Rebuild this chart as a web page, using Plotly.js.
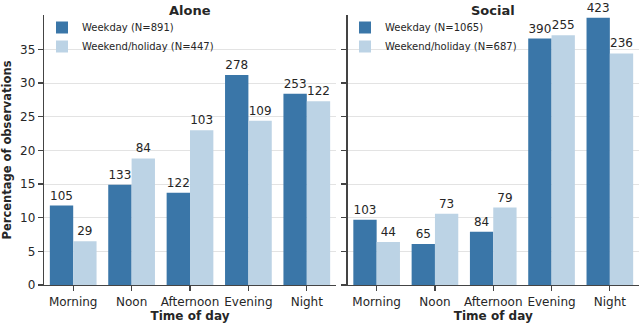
<!DOCTYPE html>
<html>
<head>
<meta charset="utf-8">
<script src="https://cdn.plot.ly/plotly-3.0.1.min.js"></script>
<style>html,body{margin:0;padding:0;background:#fff;}#chart{width:640px;height:325px;}</style>
</head>
<body>
<div id="chart"></div>
<script>
const categories = ['Morning', 'Noon', 'Afternoon', 'Evening', 'Night'];
// Alone
const aloneWeekdayPct = [11.8, 14.9, 13.7, 31.2, 28.4];
const aloneWeekdayN = [105, 133, 122, 278, 253];
const aloneWeekendPct = [6.5, 18.8, 23.0, 24.4, 27.3];
const aloneWeekendN = [29, 84, 103, 109, 122];
// Social
const socialWeekdayPct = [9.7, 6.1, 7.9, 36.6, 39.7];
const socialWeekdayN = [103, 65, 84, 390, 423];
const socialWeekendPct = [6.4, 10.6, 11.5, 37.1, 34.4];
const socialWeekendN = [44, 73, 79, 255, 236];

const seriesNames = {
  alone: ['Weekday (N=891)', 'Weekend/holiday (N=447)'],
  social: ['Weekday (N=1065)', 'Weekend/holiday (N=687)']
};
const yTicks = [0, 5, 10, 15, 20, 25, 30, 35];

const dark = '#3a76a8', light = '#bcd3e5';
const txt = '#262626';
const font = 'DejaVu Sans, sans-serif';

function bar(y, n, name, color, xa, ya, leg) {
  return {
    type: 'bar', x: categories, y: y, name: name,
    text: n.map(String), textposition: 'outside', cliponaxis: false,
    constraintext: 'none',
    textfont: {family: font, size: 12, color: txt},
    marker: {color: color, line: {width: 0}},
    xaxis: xa, yaxis: ya, legend: leg, hoverinfo: 'none'
  };
}

const data = [
  bar(aloneWeekdayPct, aloneWeekdayN, seriesNames.alone[0], dark, 'x', 'y', 'legend'),
  bar(aloneWeekendPct, aloneWeekendN, seriesNames.alone[1], light, 'x', 'y', 'legend'),
  bar(socialWeekdayPct, socialWeekdayN, seriesNames.social[0], dark, 'x2', 'y2', 'legend2'),
  bar(socialWeekendPct, socialWeekendN, seriesNames.social[1], light, 'x2', 'y2', 'legend2')
];

const xBase = {
  type: 'category', range: [-0.5, 4.5], showline: true, linecolor: '#444', linewidth: 1.3,
  ticks: 'outside', ticklen: 5, tickcolor: '#444', tickwidth: 1.2,
  showgrid: false, zeroline: false,
  tickfont: {family: font, size: 12, color: txt},
  title: {text: '<b>Time of day</b>', font: {family: font, size: 12, color: txt}, standoff: 2},
  fixedrange: true
};
const yBase = {
  range: [0, 40.1], tickvals: yTicks, showline: true, linecolor: '#444', linewidth: 1.3,
  ticks: 'outside', ticklen: 5, tickcolor: '#444', tickwidth: 1.2,
  showgrid: true, gridcolor: '#e3e3e3', gridwidth: 1, zeroline: false,
  tickfont: {family: font, size: 12, color: txt}, fixedrange: true
};

const legBase = {
  font: {family: font, size: 10, color: txt}, bgcolor: 'rgba(255,255,255,0)',
  xanchor: 'left', yanchor: 'top', tracegroupgap: 0, itemwidth: 30
};

const layout = {
  width: 640, height: 325,
  margin: {l: 0, r: 0, t: 0, b: 0},
  paper_bgcolor: '#fff', plot_bgcolor: '#fff',
  barmode: 'group', bargap: 0.2, bargroupgap: 0,
  showlegend: true,
  xaxis: Object.assign({}, xBase, {domain: [44/640, 336/640], anchor: 'y'}),
  yaxis: Object.assign({}, yBase, {domain: [1 - 285/325, 1 - 15/325], anchor: 'x',
    title: {text: '<b>Percentage of observations</b>', font: {family: font, size: 11.5, color: txt}, standoff: 6}}),
  xaxis2: Object.assign({}, xBase, {domain: [347.5/640, 639/640], anchor: 'y2'}),
  yaxis2: Object.assign({}, yBase, {domain: [1 - 285/325, 1 - 15/325], anchor: 'x2', matches: 'y', showticklabels: false}),
  legend: Object.assign({}, legBase, {x: 42/640, y: 1 - 13/325}),
  legend2: Object.assign({}, legBase, {x: 345/640, y: 1 - 13/325}),
  annotations: [
    {text: '<b>Alone</b>', x: 190/640, y: 1 - 1/325, xref: 'paper', yref: 'paper', xanchor: 'center', yanchor: 'top', showarrow: false, font: {family: font, size: 13, color: txt}},
    {text: '<b>Social</b>', x: 493/640, y: 1 - 1/325, xref: 'paper', yref: 'paper', xanchor: 'center', yanchor: 'top', showarrow: false, font: {family: font, size: 13, color: txt}}
  ]
};

Plotly.newPlot('chart', data, layout, {staticPlot: true, displayModeBar: false});
</script>
</body>
</html>
